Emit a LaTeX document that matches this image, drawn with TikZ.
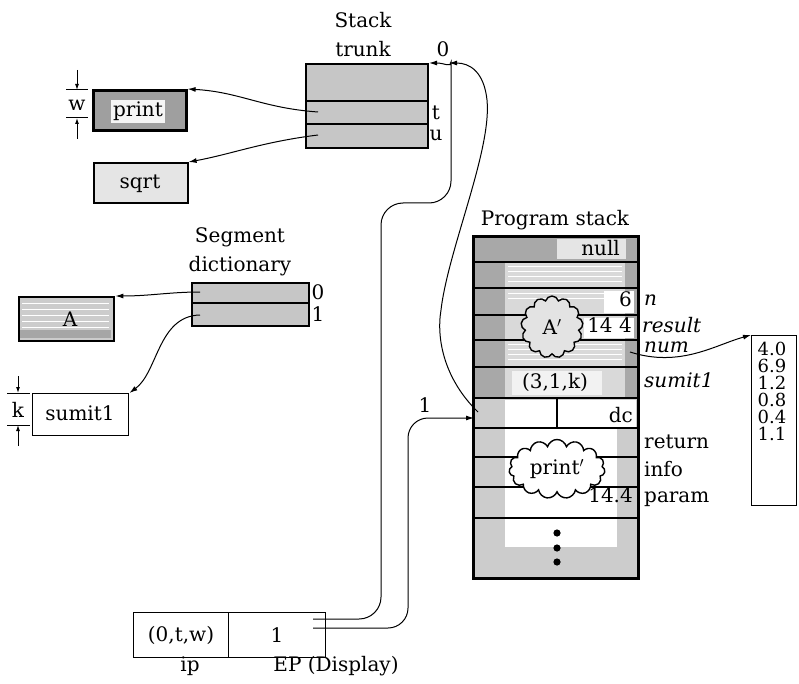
\documentclass[tikz,border=0pt]{standalone}
\usepackage{fontspec}
\setmainfont{DejaVu Serif}
\usetikzlibrary{shapes.symbols,arrows.meta}
\begin{document}
\begin{tikzpicture}[x=1pt,y=-1pt,
  font=\fontsize{20}{24}\selectfont,
  arr/.style={-{Latex[length=8pt,width=5pt]}, line width=1pt},
  dimarr/.style={-{Latex[length=6pt,width=4pt]}, line width=1pt},
  wire/.style={line width=1pt},
  box/.style={draw, line width=1.6pt, inner sep=0pt, anchor=north west},
  heavy/.style={line width=2.4pt},
  lbl/.style={inner sep=0pt},
  ital/.style={inner sep=0pt, anchor=base west, font=\fontsize{20}{24}\selectfont\itshape},
]
\useasboundingbox (0,0) rectangle (799,684);

% ---------------- Stack trunk ----------------
\node[box, line width=2pt, fill=gray!45, minimum width=122pt, minimum height=84pt] (trunk) at (305,63) {};
\draw[heavy] (trunk.west |- 0,101) -- (trunk.east |- 0,101);
\draw[heavy] (trunk.west |- 0,124) -- (trunk.east |- 0,124);
\node[lbl, anchor=base] (stacklbl) at (363,28) {Stack};
\node[lbl, anchor=base] (trunklbl) at (363,57) {trunk};
\node[lbl, anchor=base] (tlbl) at (436,120) {t};
\node[lbl, anchor=base] (ulbl) at (436,141) {u};
\node[lbl, anchor=base] (zerolbl) at (443,57) {0};
\coordinate (tptr) at (318,112);
\coordinate (uptr) at (318,135);

% ---------------- print / sqrt ----------------
\node[box, line width=2.6pt, fill=gray!75, minimum width=93pt, minimum height=40pt] (print) at (92,89) {};
\node[lbl, fill=gray!8, inner sep=2pt, anchor=base] (printtxt) at (138,117) {print};
\node[box, fill=gray!20, minimum width=94pt, minimum height=40pt] (sqrt) at (93,162) {};
\node[lbl, anchor=base] (sqrttxt) at (140,189) {sqrt};

% w dimension
\coordinate (wa1) at (66,90); \coordinate (wa2) at (88,90);
\coordinate (wb1) at (66,118); \coordinate (wb2) at (88,118);
\coordinate (wt) at (77,70); \coordinate (wtt) at (77,90);
\coordinate (wb) at (77,139); \coordinate (wbb) at (77,118);
\draw[line width=1pt] (wa1) -- (wa2);
\draw[line width=1pt] (wb1) -- (wb2);
\draw[dimarr] (wt) -- (wtt);
\draw[dimarr] (wb) -- (wbb);
\node[lbl, anchor=base] (wlbl) at (77,111) {w};

\draw[arr] (tptr) .. controls (262,108) and (240,92) .. (print.north east);
\draw[arr] (uptr) .. controls (262,142) and (232,154) .. (sqrt.north east);

% ---------------- Segment dictionary ----------------
\node[box, line width=2pt, fill=gray!45, minimum width=117pt, minimum height=43pt] (seg) at (191,282) {};
\draw[heavy] (seg.west |- 0,303) -- (seg.east |- 0,303);
\node[lbl, anchor=base] (seglbl) at (240,243) {Segment};
\node[lbl, anchor=base] (dictlbl) at (240,272) {dictionary};
\node[lbl, anchor=base] (s0lbl) at (318,299) {0};
\node[lbl, anchor=base] (s1lbl) at (318,321) {1};
\coordinate (s0) at (200,292);
\coordinate (s1) at (200,315);

\node[box, line width=2.4pt, fill=gray!40, minimum width=95pt, minimum height=44pt] (A) at (18,296) {};
\foreach \yy in {303,309,315,321,327} \draw[white, line width=0.8pt] (22,\yy) -- (109,\yy);
\fill[gray!70] (20,330) rectangle (111,338);
\node[lbl, anchor=base] (Atxt) at (70,326) {A};

\node[box, line width=1.4pt, minimum width=96pt, minimum height=42pt] (sumit) at (32,393) {};
\node[lbl, anchor=base] (sumittxt) at (80,420) {sumit1};

% k dimension
\coordinate (ka1) at (7,393); \coordinate (ka2) at (30,393);
\coordinate (kb1) at (7,425); \coordinate (kb2) at (30,425);
\coordinate (kt) at (18,376); \coordinate (ktt) at (18,393);
\coordinate (kb) at (18,446); \coordinate (kbb) at (18,425);
\draw[line width=1pt] (ka1) -- (ka2);
\draw[line width=1pt] (kb1) -- (kb2);
\draw[dimarr] (kt) -- (ktt);
\draw[dimarr] (kb) -- (kbb);
\node[lbl, anchor=base] (klbl) at (18,417) {k};

\draw[arr] (s0) .. controls (170,292) and (150,296) .. (A.north east);
\draw[arr] (s1) .. controls (158,316) and (158,372) .. (sumit.north east);

% ---------------- Program stack ----------------
\node[lbl, anchor=base] (pslbl) at (555,226) {Program stack};
% upper part
\fill[gray!68] (472,235) rectangle (637,398);
\fill[gray!30] (505,262) rectangle (625,398);
\foreach \yy in {266,271,276,281,344,349,354,359,293,298} \draw[white, line width=0.7pt] (508,\yy) -- (622,\yy);
\fill[gray!20] (557,239) rectangle (626,259);
\fill[white] (604,291) rectangle (634,313);
\fill[white] (584,318) rectangle (634,338);
\fill[gray!10] (512,371) rectangle (602,395);
\foreach \yy in {262,288,315,340,367,398} \draw[heavy] (472,\yy) -- (637,\yy);
% lower part
\fill[gray!40] (472,399) rectangle (637,577);
\fill[white] (505,400) rectangle (636,427);
\fill[white] (505,428) rectangle (617,547);
\draw[line width=1.6pt] (557,398) -- (557,428);
\draw[heavy] (472,428) -- (637,428);
\draw[line width=1.8pt] (472,457) -- (637,457);
\draw[line width=1.8pt] (472,487) -- (637,487);
\draw[heavy] (472,518) -- (637,518);
\node[box, line width=2.6pt, minimum width=165pt, minimum height=342pt] (ps) at (472,235) {};

\node[lbl, anchor=base east] (nulltxt) at (620,256) {null};
\node[lbl, anchor=base east] (sixtxt) at (632,306) {6};
\node[lbl, anchor=base east] (res) at (632,332) {14 4};
\node[lbl] (triple) at (555,382) {(3,1,k)};
\node[lbl, anchor=base east] (dctxt) at (633,422) {dc};
\node[lbl, anchor=base east] (param) at (633,502) {14.4};

\node[cloud, cloud puffs=13, draw, line width=1.4pt, fill=gray!22, minimum width=62pt, minimum height=62pt, inner sep=0pt] (Ap) at (552,327) {A$'$};
\node[cloud, cloud puffs=15, aspect=1.6, draw, line width=1.4pt, fill=white, minimum width=96pt, minimum height=58pt, inner sep=0pt] (pp) at (557,469) {print$'$};

\fill (557,533) circle (3.6pt);
\fill (557,548) circle (3.6pt);
\fill (557,562) circle (3.6pt);

\node[ital] (nl) at (644,305) {n};
\node[ital] (rl) at (642,332) {result};
\node[ital] (nml) at (644,352) {num};
\node[ital] (sl) at (644,387) {sumit1};
\node[lbl, anchor=base west] (retl) at (644,448) {return};
\node[lbl, anchor=base west] (infl) at (644,476) {info};
\node[lbl, anchor=base west] (parl) at (644,502) {param};

% ---------------- number array ----------------
\node[box, line width=1.4pt, minimum width=45pt, minimum height=170pt] (nums) at (751,335) {};
\node[lbl, anchor=north, align=center, font=\fontsize{18}{17}\selectfont] (numlist) at (772,342) {4.0\\6.9\\1.2\\0.8\\0.4\\1.1};
\coordinate (numptr) at (630,352);
\draw[arr] (numptr) .. controls (680,368) and (715,345) .. (nums.north west);

% ---------------- ip / EP ----------------
\node[box, line width=1.4pt, minimum width=95pt, minimum height=45pt] (ip) at (133,612) {};
\node[box, line width=1.4pt, minimum width=97pt, minimum height=45pt] (ep) at (228,612) {};
\node[lbl] (iptxt) at (181,635) {(0,t,w)};
\node[lbl, anchor=base] (eptxt) at (277,642) {1};
\node[lbl, anchor=base] (iplbl) at (190,671) {ip};
\node[lbl, anchor=base] (eplbl) at (336,671) {EP (Display)};

\coordinate (e1) at (313,619);
\coordinate (e2) at (313,628);
\coordinate (dcin) at (474,418);
\coordinate (dcptr) at (478,412);
\coordinate (zeroin) at (449,63);

\draw[wire, arr] {[rounded corners=22pt] (e1) -- (381,619) -- (381,203) -- (451,203) -- (451,84)} .. controls (451,68) and (445,63) .. (trunk.north east);
\draw[wire, arr, rounded corners=20pt] (e2) -- (408,628) -- (408,418) -- (dcin);
\node[lbl, anchor=base] (onelbl) at (425,412) {1};
\draw[arr] (dcptr) .. controls (445,380) and (436,340) .. (441,310) .. controls (448,250) and (492,150) .. (487,100) .. controls (484,72) and (470,63) .. (zeroin);

\end{tikzpicture}
\end{document}
